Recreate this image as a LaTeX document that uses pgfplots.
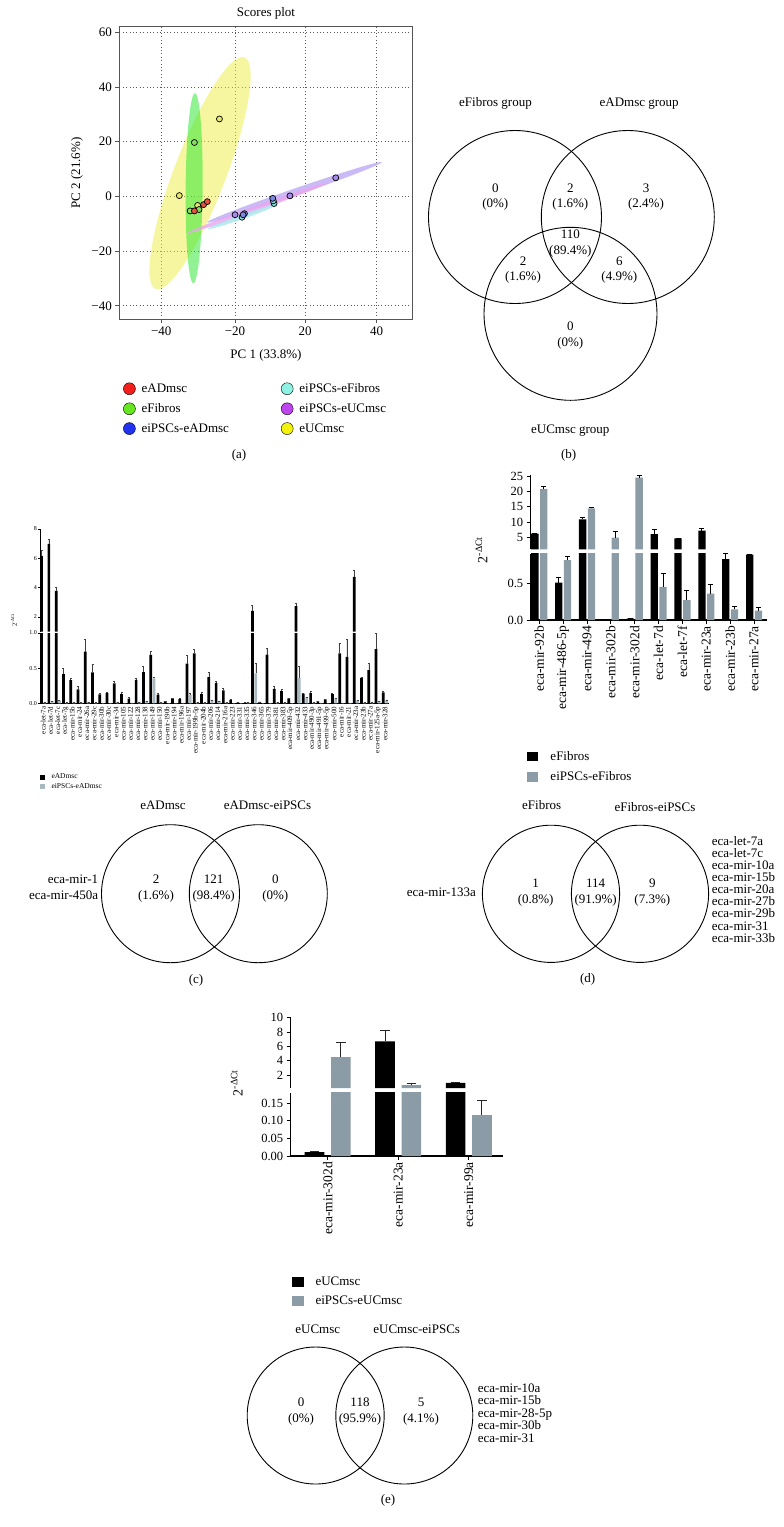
\documentclass[border=0pt]{standalone}
\usepackage{pgfplots}
\usepackage{pgfplotstable}
\pgfplotsset{compat=1.18}
\usepackage{fontspec}
\setmainfont{Liberation Serif}
\newcommand{\fs}[1]{\fontsize{#1}{#1}\selectfont}
\definecolor{ellY}{HTML}{EEEE44}
\definecolor{ellG}{HTML}{22E628}
\definecolor{ellP}{HTML}{C4B2F4}
\definecolor{ellM}{HTML}{E9A6EE}
\definecolor{ellC}{HTML}{A6E6EC}
\definecolor{ptR}{HTML}{E5533F}
\definecolor{ptG}{HTML}{86DC5E}
\definecolor{ptB}{HTML}{7C88E4}
\definecolor{ptC}{HTML}{86DDD6}
\definecolor{ptP}{HTML}{A88CEA}
\definecolor{ptY}{HTML}{E6E66E}
\definecolor{lgR}{HTML}{F2201C}
\definecolor{lgG}{HTML}{66E622}
\definecolor{lgB}{HTML}{2233EE}
\definecolor{lgC}{HTML}{8EF2E2}
\definecolor{lgP}{HTML}{BF45EE}
\definecolor{lgY}{HTML}{F2F20C}
\definecolor{barG}{HTML}{8B9CA6}
\definecolor{barGc}{HTML}{A7B8C0}
\definecolor{frame}{HTML}{555555}

\pgfplotstableread{
x b be g ge
0 6.16 0.41 0.02 0
1 6.98 0.32 0.03 0
2 3.77 0.28 0.04 0
3 0.415 0.09 0.01 0
4 0.33 0.025 0.01 0
5 0.20 0.045 0.01 0
6 0.736 0.18 0.02 0
7 0.44 0.115 0.01 0
8 0.127 0.013 0.005 0
9 0.146 0.018 0.005 0
10 0.283 0.037 0.02 0
11 0.13 0.025 0.005 0
12 0.066 0.014 0.005 0
13 0.335 0.023 0.02 0
14 0.443 0.085 0.03 0
15 0.69 0.045 0.354 0.023
16 0.123 0.027 0.01 0
17 0.03 0.005 0 0
18 0.07 0.005 0.005 0
19 0.06 0.01 0.005 0
20 0.566 0.114 0.12 0.02
21 0.712 0.052 0.01 0
22 0.13 0.03 0.01 0
23 0.373 0.07 0.05 0
24 0.29 0.02 0.03 0
25 0.184 0.033 0.01 0
26 0.05 0.005 0 0
27 0.01 0 0 0
28 0.01 0 0.01 0
29 2.41 0.41 0.425 0.15
30 0.02 0 0 0
31 0.693 0.09 0.005 0
32 0.207 0.033 0.01 0
33 0.175 0.025 0.01 0
34 0.07 0.005 0 0
35 2.73 0.22 0.363 0.165
36 0.137 0.013 0.08 0.01
37 0.146 0.02 0.01 0
38 0.03 0 0.005 0
39 0.055 0.005 0 0
40 0.13 0.01 0.065 0
41 0.712 0.148 0.005 0
42 0.66 0.255 0.005 0
43 4.73 0.43 0.04 0
44 0.363 0.007 0.01 0
45 0.472 0.1 0.02 0
46 0.77 0.22 0.03 0
47 0.156 0.014 0.05 0
}\datac

\pgfplotstableread{
x b be g ge
0 6.1 0.2 20.9 0.9
1 0.509 0.077 0.817 0.046
2 10.86 0.5 14.5 0.3
3 0 0 4.8 2.2
4 0.018 0 24.7 0.7
5 6.0 1.5 0.45 0.186
6 4.56 0 0.272 0.132
7 7.1 0.66 0.359 0.127
8 0.83 0.07 0.145 0.045
9 0.89 0 0.127 0.046
}\datad

\pgfplotstableread{
x b be g ge
0 0.011 0.002 4.5 2.1
1 6.7 1.48 0.61 0.23
2 0.93 0.04 0.116 0.041
}\datae

\pgfplotsset{
  barbase/.style={scale only axis, anchor=south west, tick align=outside,
    axis line style={black}, tick style={black},
    error bars/y dir=plus, error bars/y explicit},
}

\begin{document}
\begin{tikzpicture}
\useasboundingbox (0pt,0pt) rectangle (784pt,-1527pt);

% ---------- canvas axis (Venn diagrams and texts) ----------
\begin{axis}[at={(0pt,0pt)}, anchor=north west, scale only axis, width=784pt, height=1527pt,
  xmin=0, xmax=784, ymin=-1527, ymax=0, hide axis, clip=false]
\addplot[only marks, mark=o, mark size=86.5pt, mark options={black, line width=0.9pt}] coordinates {(515,-217) (627.8,-217) (570.5,-313.8)};
\addplot[only marks, mark=o, mark size=69pt, mark options={black, line width=0.9pt}] coordinates {(170.5,-893.7) (258.3,-893.7)};
\addplot[only marks, mark=o, mark size=68.6pt, mark options={black, line width=0.9pt}] coordinates {(551,-893.8) (640,-893.8)};
\addplot[only marks, mark=o, mark size=68.5pt, mark options={black, line width=0.9pt}] coordinates {(315.7,-1415.5) (404.3,-1415.5)};

\begin{scope}[every node/.style={font=\fs{13}, inner sep=0pt, text height=9pt, text depth=3pt}]
% panel a texts
\node at (axis cs:266,-13.5) {Scores plot};
\node at (axis cs:266,-355) {PC 1 (33.8\%)};
\node[rotate=90] at (axis cs:77,-173) {PC 2 (21.6\%)};
\node at (axis cs:239,-455) {(a)};
\node at (axis cs:568.7,-455) {(b)};
% venn b
\node at (axis cs:495.5,-103.3) {eFibros group};
\node at (axis cs:639.2,-103.3) {eADmsc group};
\node at (axis cs:570.3,-430) {eUCmsc group};
\node at (axis cs:495.3,-189.3) {0};
\node at (axis cs:495.3,-204.7) {(0\%)};
\node at (axis cs:570.3,-189.3) {2};
\node at (axis cs:570.3,-204.7) {(1.6\%)};
\node at (axis cs:646,-189.3) {3};
\node at (axis cs:646,-204.7) {(2.4\%)};
\node at (axis cs:570.3,-235.7) {110};
\node at (axis cs:570.3,-251.7) {(89.4\%)};
\node at (axis cs:523,-262.3) {2};
\node at (axis cs:523,-277.3) {(1.6\%)};
\node at (axis cs:619.3,-262.3) {6};
\node at (axis cs:619.3,-277.3) {(4.9\%)};
\node at (axis cs:570.3,-327.7) {0};
\node at (axis cs:570.3,-343.3) {(0\%)};
% venn c
\node at (axis cs:163,-806.7) {eADmsc};
\node at (axis cs:267.5,-806.7) {eADmsc-eiPSCs};
\node at (axis cs:156,-880.7) {2};
\node at (axis cs:156,-896.7) {(1.6\%)};
\node at (axis cs:213.7,-880.7) {121};
\node at (axis cs:213.7,-896.7) {(98.4\%)};
\node at (axis cs:275.3,-880.7) {0};
\node at (axis cs:275.3,-896.7) {(0\%)};
\node[anchor=east] at (axis cs:98.3,-880.7) {eca-mir-1};
\node[anchor=east] at (axis cs:98.3,-896.7) {eca-mir-450a};
\node at (axis cs:196,-980) {(c)};
% venn d
\node at (axis cs:541.7,-806.7) {eFibros};
\node at (axis cs:655,-808.3) {eFibros-eiPSCs};
\node at (axis cs:535.7,-884) {1};
\node at (axis cs:535.7,-900) {(0.8\%)};
\node at (axis cs:595.7,-884) {114};
\node at (axis cs:595.7,-900) {(91.9\%)};
\node at (axis cs:652.3,-884) {9};
\node at (axis cs:652.3,-900) {(7.3\%)};
\node[anchor=east] at (axis cs:476,-893.3) {eca-mir-133a};
\node[anchor=west] at (axis cs:711.7,-842.3) {eca-let-7a};
\node[anchor=west] at (axis cs:711.7,-854.4) {eca-let-7c};
\node[anchor=west] at (axis cs:711.7,-866.5) {eca-mir-10a};
\node[anchor=west] at (axis cs:711.7,-878.6) {eca-mir-15b};
\node[anchor=west] at (axis cs:711.7,-890.7) {eca-mir-20a};
\node[anchor=west] at (axis cs:711.7,-902.8) {eca-mir-27b};
\node[anchor=west] at (axis cs:711.7,-914.9) {eca-mir-29b};
\node[anchor=west] at (axis cs:711.7,-927.0) {eca-mir-31};
\node[anchor=west] at (axis cs:711.7,-939.1) {eca-mir-33b};
\node at (axis cs:587.7,-979.3) {(d)};
% venn e
\node at (axis cs:317.8,-1330) {eUCmsc};
\node at (axis cs:416.7,-1330) {eUCmsc-eiPSCs};
\node at (axis cs:301,-1403) {0};
\node at (axis cs:301,-1419) {(0\%)};
\node at (axis cs:360,-1403) {118};
\node at (axis cs:360,-1419) {(95.9\%)};
\node at (axis cs:421,-1403) {5};
\node at (axis cs:421,-1419) {(4.1\%)};
\node[anchor=west] at (axis cs:477.7,-1389) {eca-mir-10a};
\node[anchor=west] at (axis cs:477.7,-1401.5) {eca-mir-15b};
\node[anchor=west] at (axis cs:477.7,-1414) {eca-mir-28-5p};
\node[anchor=west] at (axis cs:477.7,-1426.5) {eca-mir-30b};
\node[anchor=west] at (axis cs:477.7,-1439) {eca-mir-31};
\node at (axis cs:388,-1500) {(e)};
% y labels of bar charts
\node[rotate=90, font=\fs{6.5}, text height=5pt, text depth=1.5pt] at (axis cs:15,-620) {2\textsuperscript{-ΔCt}};
\node[rotate=90, font=\fs{14}] at (axis cs:484.3,-550) {2\textsuperscript{-ΔCt}};
\node[rotate=90, font=\fs{14}] at (axis cs:239.5,-1083) {2\textsuperscript{-ΔCt}};
\end{scope}
\end{axis}

% ---------- panel a: PCA scores ----------
\begin{axis}[at={(119.3pt,-319.3pt)}, anchor=south west, scale only axis, width=293.4pt, height=292.6pt,
  xmin=-55.6, xmax=53.4, ymin=-44.9, ymax=62.0,
  xtick={-40,-12.6,13.4,40}, xticklabels={−40,−20,20,40},
  ytick={-40,-20,0,20,40,60}, yticklabels={−40,−20,0,20,40,60},
  tick label style={font=\fs{13}},
  axis line style={frame, line width=1.3pt},
  tick style={frame, line width=0.8pt}, tick align=outside, tick pos=left, major tick length=4pt,
  grid=major, grid style={black!65, line width=0.8pt, dash pattern=on 0.8pt off 2.6pt},
  legend columns=2, legend cell align=left,
  legend style={at={(0.0024,-0.205)}, anchor=north west, draw=none, fill=none, font=\fs{13},
    row sep=5.5pt, /tikz/every even column/.append style={column sep=50pt}},
  legend image code/.code={\fill[#1] (6pt,0pt) circle[radius=6pt]; \path (16pt,0pt);},
]
\fill[ellY, fill opacity=0.5, rotate around={69:(axis cs:-25.6,8.5)}] (axis cs:-25.6,8.5) ellipse [x radius=124pt, y radius=26pt];
\fill[ellG, fill opacity=0.5, rotate around={89.5:(axis cs:-27.8,3.0)}] (axis cs:-27.8,3.0) ellipse [x radius=95pt, y radius=8.5pt];
\fill[ellP, fill opacity=0.9, rotate around={19:(axis cs:9.4,1.5)}] (axis cs:9.4,1.5) ellipse [x radius=92.6pt, y radius=3.5pt];
\fill[ellM, fill opacity=0.8, rotate around={19.7:(axis cs:-4.2,-4.2)}] (axis cs:-4.2,-4.2) ellipse [x radius=75pt, y radius=2.5pt];
\fill[ellC, fill opacity=0.8, rotate around={19.4:(axis cs:-9.8,-7.4)}] (axis cs:-9.8,-7.4) ellipse [x radius=36.5pt, y radius=2.2pt];
\addplot[only marks, mark=*, mark size=3pt, mark options={draw=black, fill=ptY, line width=0.7pt}, forget plot] coordinates {(-18.4,28.3) (-33.3,0.3) (-26.5,-3.3)};
\addplot[only marks, mark=*, mark size=3pt, mark options={draw=black, fill=ptG, line width=0.7pt}, forget plot] coordinates {(-27.7,19.7) (-29.3,-5.3) (-26.0,-4.8)};
\addplot[only marks, mark=*, mark size=3pt, mark options={draw=black, fill=ptR, line width=0.7pt}, forget plot] coordinates {(-27.7,-5.3) (-24.3,-3.0) (-22.9,-1.9)};
\addplot[only marks, mark=*, mark size=3pt, mark options={draw=black, fill=ptP, line width=0.7pt}, forget plot] coordinates {(-12.6,-6.7) (7.8,0.2) (24.8,6.8)};
\addplot[only marks, mark=*, mark size=3pt, mark options={draw=black, fill=ptC, line width=0.7pt}, forget plot] coordinates {(-10.0,-7.6) (1.9,-2.6) (1.6,-1.6)};
\addplot[only marks, mark=*, mark size=3pt, mark options={draw=black, fill=ptB, line width=0.7pt}, forget plot] coordinates {(-9.1,-6.3) (1.4,-0.7) (-9.6,-6.7)};
\addlegendimage{fill=lgR}\addlegendentry{eADmsc}
\addlegendimage{fill=lgC}\addlegendentry{eiPSCs-eFibros}
\addlegendimage{fill=lgG}\addlegendentry{eFibros}
\addlegendimage{fill=lgP}\addlegendentry{eiPSCs-eUCmsc}
\addlegendimage{fill=lgB}\addlegendentry{eiPSCs-eADmsc}
\addlegendimage{fill=lgY}\addlegendentry{eUCmsc}
\end{axis}

% ---------- panel c: lower segment ----------
\begin{axis}[barbase, at={(40pt,-703.3pt)}, width=348.6pt, height=70.3pt,
  xmin=-0.45, xmax=47.5, ymin=0, ymax=1,
  axis x line*=bottom, axis y line*=left, axis line style={line width=0.6pt},
  ybar=0.6pt, bar width=2.7pt,
  xtick={0,...,47},
  xticklabels={eca-let-7a,eca-let-7d,eca-let-7c,eca-let-7g,eca-mir-15b,eca-mir-24,eca-mir-26a,eca-mir-29c,eca-mir-30b,eca-mir-30c,eca-mir-34,eca-mir-105,eca-mir-122,eca-mir-128,eca-mir-138,eca-mir-149,eca-mir-150,eca-mir-190b,eca-mir-194,eca-mir-196a,eca-mir-197,eca-mir-199b-5p,eca-mir-204b,eca-mir-206,eca-mir-214,eca-mir-216a,eca-mir-223,eca-mir-331,eca-mir-335,eca-mir-346,eca-mir-365,eca-mir-379,eca-mir-381,eca-mir-383,eca-mir-409-5p,eca-mir-432,eca-mir-433,eca-mir-490-3p,eca-mir-491-5p,eca-mir-499-5p,eca-mir-500,eca-mir-16,eca-mir-21,eca-mir-23a,eca-mir-23b,eca-mir-27a,eca-mir-125a-5p,eca-mir-328},
  xticklabel style={rotate=90, anchor=east, font=\fs{7}, inner sep=1pt},
  xtick style={draw=none},
  ytick={0,0.5,1}, yticklabels={0.0,0.5,1.0}, yticklabel style={font=\fs{6}, inner sep=1pt},
  major tick length=2pt,
  error bars/error bar style={black!75, line width=0.5pt},
  error bars/error mark options={rotate=90, black!75, line width=0.5pt, mark size=1pt},
  legend cell align=left,
  legend style={at={(-0.002,-0.981)}, anchor=north west, draw=none, fill=none, font=\fs{7.5}, row sep=0pt, inner sep=0pt, nodes={inner sep=1.5pt}},
  legend image code/.code={\fill[#1] (0pt,-2.6pt) rectangle (5.6pt,2.6pt); \path (10.5pt,0pt);},
]
\addplot[fill=black, draw=none] table[x=x, y=b, y error=be] {\datac};
\addplot[fill=barGc, draw=none] table[x=x, y=g, y error=ge] {\datac};
\addlegendentry{eADmsc}
\addlegendentry{eiPSCs-eADmsc}
\end{axis}
% ---------- panel c: upper segment ----------
\begin{axis}[barbase, at={(40pt,-631.5pt)}, width=348.6pt, height=102.5pt,
  xmin=-0.45, xmax=47.5, ymin=1, ymax=8, restrict y to domain=1:100,
  axis y line*=left, axis x line=none, axis line style={line width=0.6pt},
  ybar=0.6pt, bar width=2.7pt,
  ytick={2,4,6,8}, yticklabels={2,4,6,8}, yticklabel style={font=\fs{6}, inner sep=1pt},
  major tick length=2pt,
  error bars/error bar style={black!75, line width=0.5pt},
  error bars/error mark options={rotate=90, black!75, line width=0.5pt, mark size=1pt},
]
\addplot[fill=black, draw=none] table[x=x, y=b, y error=be] {\datac};
\addplot[fill=barGc, draw=none] table[x=x, y=g, y error=ge] {\datac};
\end{axis}

% ---------- panel d: lower segment ----------
\begin{axis}[barbase, at={(530.7pt,-620pt)}, width=236pt, height=66.1pt,
  xmin=-0.36, xmax=9.53, ymin=0, ymax=0.9,
  axis x line*=bottom, axis y line*=left, axis line style={line width=1.1pt},
  ybar=1.5pt, bar width=7.3pt,
  xtick={0,...,9},
  xticklabels={eca-mir-92b,eca-mir-486-5p,eca-mir-494,eca-mir-302b,eca-mir-302d,eca-let-7d,eca-let-7f,eca-mir-23a,eca-mir-23b,eca-mir-27a},
  xticklabel style={rotate=90, anchor=east, font=\fs{13.5}, inner sep=2pt},
  ytick={0,0.5}, yticklabels={0.0,0.5}, yticklabel style={font=\fs{12.5}},
  major tick length=4pt, tick style={line width=0.9pt},
  error bars/error bar style={black, line width=0.9pt},
  error bars/error mark options={rotate=90, black, line width=0.9pt, mark size=2.5pt},
  legend cell align=left,
  legend style={at={(-0.017,-1.951)}, anchor=north west, draw=none, fill=none, font=\fs{13}, row sep=6pt, inner sep=0pt},
  legend image code/.code={\fill[#1] (0pt,-4.65pt) rectangle (11.6pt,4.65pt); \path (21.6pt,0pt);},
]
\addplot[fill=black, draw=none] table[x=x, y=b, y error=be] {\datad};
\addplot[fill=barG, draw=none] table[x=x, y=g, y error=ge] {\datad};
\addlegendentry{eFibros}
\addlegendentry{eiPSCs-eFibros}
\end{axis}
% ---------- panel d: upper segment ----------
\begin{axis}[barbase, at={(530.7pt,-549.4pt)}, width=236pt, height=74.5pt,
  xmin=-0.36, xmax=9.53, ymin=0.9, ymax=25.6, restrict y to domain=0.9:100,
  axis y line*=left, axis x line=none, axis line style={line width=1.1pt},
  ybar=1.5pt, bar width=7.3pt,
  ytick={5,10,15,20,25}, yticklabels={5,10,15,20,25}, yticklabel style={font=\fs{12.5}},
  major tick length=4pt, tick style={line width=0.9pt},
  error bars/error bar style={black, line width=0.9pt},
  error bars/error mark options={rotate=90, black, line width=0.9pt, mark size=2.5pt},
]
\addplot[fill=black, draw=none] table[x=x, y=b, y error=be] {\datad};
\addplot[fill=barG, draw=none] table[x=x, y=g, y error=ge] {\datad};
\end{axis}

% ---------- panel e: lower segment ----------
\begin{axis}[barbase, at={(290.7pt,-1156pt)}, width=212.6pt, height=63.4pt,
  xmin=-0.525, xmax=2.49, ymin=0, ymax=0.18,
  axis x line*=bottom, axis y line*=left, axis line style={line width=1.1pt},
  ybar=6.6pt, bar width=19.7pt,
  xtick={0,1,2}, xticklabels={eca-mir-302d,eca-mir-23a,eca-mir-99a},
  xticklabel style={rotate=90, anchor=east, font=\fs{13.5}, inner sep=2pt},
  ytick={0,0.05,0.1,0.15}, yticklabels={0.00,0.05,0.10,0.15}, yticklabel style={font=\fs{12.5}},
  major tick length=4pt, tick style={line width=0.9pt},
  error bars/error bar style={black!85, line width=0.9pt},
  error bars/error mark options={rotate=90, black!85, line width=0.9pt, mark size=4.7pt},
  legend cell align=left,
  legend style={at={(0.0047,-1.877)}, anchor=north west, draw=none, fill=none, font=\fs{13}, row sep=5pt, inner sep=0pt},
  legend image code/.code={\fill[#1] (0pt,-5pt) rectangle (11.6pt,5pt); \path (21.6pt,0pt);},
]
\addplot[fill=black, draw=none] table[x=x, y=b, y error=be] {\datae};
\addplot[fill=barG, draw=none] table[x=x, y=g, y error=ge] {\datae};
\addlegendentry{eUCmsc}
\addlegendentry{eiPSCs-eUCmsc}
\end{axis}
% ---------- panel e: upper segment ----------
\begin{axis}[barbase, at={(290.7pt,-1088pt)}, width=212.6pt, height=70.3pt,
  xmin=-0.525, xmax=2.49, ymin=0.2, ymax=10, restrict y to domain=0.2:100,
  axis y line*=left, axis x line=none, axis line style={line width=1.1pt},
  ybar=6.6pt, bar width=19.7pt,
  ytick={2,4,6,8,10}, yticklabels={2,4,6,8,10}, yticklabel style={font=\fs{12.5}},
  major tick length=4pt, tick style={line width=0.9pt},
  error bars/error bar style={black!85, line width=0.9pt},
  error bars/error mark options={rotate=90, black!85, line width=0.9pt, mark size=4.7pt},
]
\addplot[fill=black, draw=none] table[x=x, y=b, y error=be] {\datae};
\addplot[fill=barG, draw=none] table[x=x, y=g, y error=ge] {\datae};
\end{axis}
\end{tikzpicture}
\end{document}
